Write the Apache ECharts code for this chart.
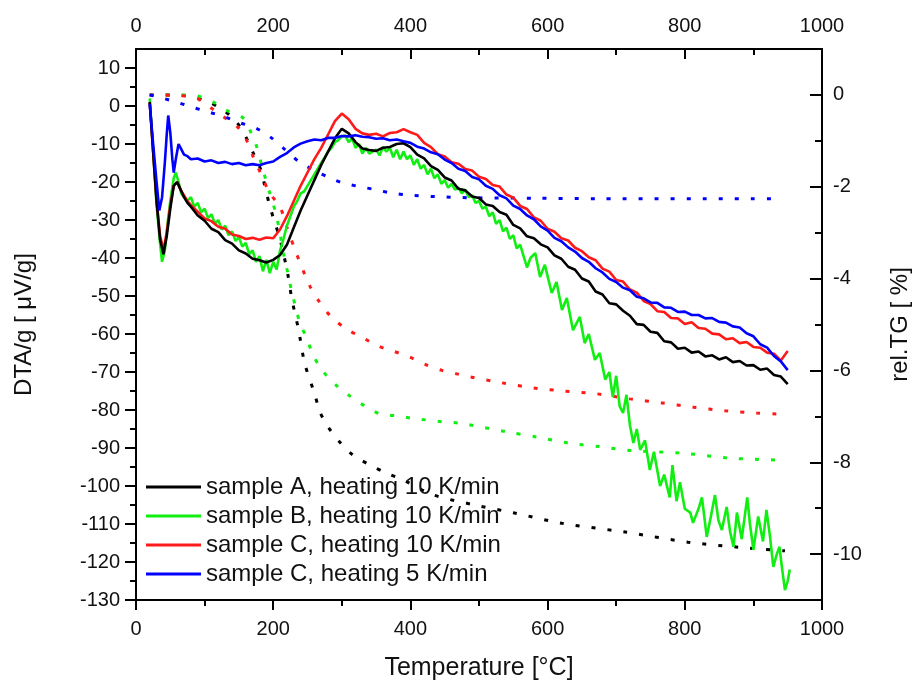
<!DOCTYPE html>
<html>
<head>
<meta charset="utf-8">
<script src="https://cdn.jsdelivr.net/npm/echarts@6/dist/echarts.min.js"></script>
<style>
html,body{margin:0;padding:0;background:#fff;}
#chart{width:914px;height:682px;}
</style>
</head>
<body>
<div id="chart"></div>
<script>
// ---------- DATA ----------
const legendNames = [
  'sample A, heating 10 K/min',
  'sample B, heating 10 K/min',
  'sample C, heating 10 K/min',
  'sample C, heating 5 K/min'
];
const xTicks = [0, 200, 400, 600, 800, 1000];
const leftTicks = [-130,-120,-110,-100,-90,-80,-70,-60,-50,-40,-30,-20,-10,0,10];
const rightTicks = [0,-2,-4,-6,-8,-10];

// DTA curves [temperature °C, DTA/g µV/g]
const dtaA = [[20,1],[25,-12],[30,-25],[35,-35],[40,-39],[45,-34],[50,-27],[55,-21],[60,-20],[65,-22],[70,-24],[75,-25.5],[80,-26.5],
[90,-28.8],[100,-30.2],[110,-32.3],[120,-33.2],[130,-35.3],[140,-36.2],[150,-38],[160,-38.8],[170,-40.2],[180,-40.6],[190,-41.2],[200,-40.5],[210,-39.2],[220,-36.5],[230,-32],[240,-27.5],[250,-23.5],[260,-19.5],[270,-15.5],[280,-12],[290,-8.5],[300,-6],[310,-7.2],[320,-9.5],[330,-11.2],[340,-11.6],[350,-11.8],[360,-11],[370,-10.8],[380,-10],[390,-9.8],[400,-10.8],[410,-12.8],[420,-13.8],[430,-15.8],[440,-16.8],[450,-18.8],[460,-19.6],[470,-21.8],[480,-22.2],[490,-23.8],[500,-24.2],[510,-25.9],[520,-26.3],[530,-27.9],[540,-28.6],[550,-31.3],[560,-32.2],[570,-34.3],[580,-34.8],[590,-36.4],[600,-37.2],[610,-39.3],[620,-40.2],[630,-42.3],[640,-43.1],[650,-45.4],[660,-46.2],[670,-48.8],[680,-49.6],[690,-51.9],[700,-52.2],[710,-53.9],[720,-55.2],[730,-57.4],[740,-57.6],[750,-59.4],[760,-59.7],[770,-61.9],[780,-62.2],[790,-63.9],[800,-63.6],[810,-64.9],[820,-64.6],[830,-65.9],[840,-65.6],[850,-66.7],[860,-66.1],[870,-67.4],[880,-67.1],[890,-68.3],[900,-68.2],[910,-69.4],[920,-69.1],[930,-70.8],[940,-71.2],[950,-73.2]];

const dtaB = [[20,2],[25,-12],[30,-26],[35,-36],[38,-41],[42,-38],[46,-31],[50,-25],[55,-19],[58,-17.5],[62,-20],[66,-23],[70,-24],[75,-25],[80,-24],[85,-26.5],[90,-25.5],[95,-28],[100,-27],[105,-29.5],[110,-28.5],[115,-31],[120,-30],[125,-32.5],[130,-31.5],[135,-34],[140,-33],[145,-35.5],[150,-34.5],[155,-37],[160,-36],[165,-39],[170,-38],[175,-41],[180,-39.5],[185,-43.5],[190,-40.5],[195,-44],[200,-41],[205,-43],[210,-38],[215,-35],[220,-31.5],[225,-29],[230,-26.5],[235,-25],[240,-23],[245,-22.5],[250,-21],[255,-19.5],[260,-18],[265,-16.5],[270,-15],[275,-13.5],[280,-12],[285,-11],[290,-9.5],[295,-9],[300,-8],[305,-7.8],[310,-9.5],[315,-8.5],[320,-11],[325,-10],[330,-12.5],[335,-11],[340,-12.5],[350,-11.5],[355,-13],[360,-10.8],[365,-12],[370,-11],[375,-13.5],[380,-11.5],[385,-14],[390,-12],[395,-14],[400,-13],[405,-15.5],[410,-14],[415,-16.5],[420,-15.5],[425,-18],[430,-16.5],[435,-19],[440,-18],[445,-20.5],[450,-19.5],[455,-21.5],[460,-20.5],[465,-22],[470,-21.5],[475,-23],[480,-22],[485,-24],[490,-23.5],[495,-25.5],[500,-25],[505,-27],[510,-26.5],[515,-29],[520,-28],[525,-31],[530,-30],[535,-33],[540,-32],[545,-35],[550,-34],[555,-37.5],[560,-36.5],[565,-39.5],[570,-42.5],[575,-40],[582,-38.7],[589,-45],[596,-41.8],[606,-49.2],[613,-46.3],[621,-53.7],[628,-50.5],[637,-59],[647,-55.5],[654,-62.4],[660,-60],[669,-66.8],[676,-65],[684,-72],[690,-70],[695,-76.6],[700,-71],[705,-79],[710,-80.8],[715,-76],[720,-84],[725,-88.7],[730,-85],[735,-90.5],[742,-88],[749,-95.8],[755,-91],[764,-100],[770,-97],[778,-103],[782,-94.5],[788,-104],[793,-99],[800,-106],[808,-107],[812,-109.7],[820,-106],[825,-103],[832,-113.4],[838,-108],[844,-102.4],[849,-109],[854,-111.6],[861,-105.5],[866,-112],[871,-116],[876,-107],[883,-114],[891,-103],[895,-110],[900,-116.8],[907,-108],[914,-114.6],[919,-106.3],[924,-113],[929,-121.3],[934,-118],[938,-116],[942,-122],[946,-127.4],[950,-125],[953,-122]];

const dtaC10 = [[20,1],[25,-12],[30,-25],[35,-34],[40,-38],[45,-33],[50,-26],[55,-21],[60,-20],[65,-22],[70,-23.5],[75,-25],[80,-26],[90,-27.8],[100,-29.6],[110,-30.3],[120,-31.8],[130,-32.3],[140,-33.8],[150,-34.2],[160,-35],[170,-34.7],[180,-35.2],[190,-34.6],[200,-34.8],[210,-32.5],[220,-29],[230,-25],[240,-21],[250,-17.5],[260,-14],[270,-11],[280,-7.5],[290,-4],[300,-2],[310,-3.5],[320,-6],[330,-7.2],[340,-7.6],[350,-7.3],[360,-8],[370,-7.1],[380,-6.9],[390,-6.1],[400,-6.9],[410,-7.6],[420,-9.7],[430,-10.8],[440,-12.7],[450,-13.3],[460,-14.8],[470,-15.2],[480,-16.6],[490,-17],[500,-18.6],[510,-19.2],[520,-20.8],[530,-21.2],[540,-23.3],[550,-24.1],[560,-26.3],[570,-27.1],[580,-29.3],[590,-30.2],[600,-32.3],[610,-33.1],[620,-34.8],[630,-35.4],[640,-37.3],[650,-38.2],[660,-39.8],[670,-40.6],[680,-42.8],[690,-43.6],[700,-45.8],[710,-46.2],[720,-48.3],[730,-49.1],[740,-51.3],[750,-52.1],[760,-54],[770,-54.2],[780,-55.8],[790,-55.9],[800,-57.4],[810,-56.9],[820,-58.4],[830,-58.6],[840,-59.9],[850,-60.1],[860,-61.4],[870,-61.1],[880,-62.4],[890,-62.1],[900,-63.4],[910,-63.6],[920,-64.9],[930,-65.2],[940,-67],[950,-64.5]];

const dtaC5 = [[20,0.5],[25,-10],[30,-20],[34,-27.5],[38,-24],[42,-15],[45,-7],[47,-2.5],[50,-7],[53,-14],[55,-17.5],[58,-14],[62,-10],[65,-11],[70,-12.8],[75,-13.2],[80,-14],[90,-13.8],[100,-14.6],[110,-14.3],[120,-15],[130,-14.7],[140,-15.3],[150,-15],[160,-15.6],[170,-15.3],[180,-15.6],[190,-15],[200,-14.6],[210,-13.4],[220,-12.4],[230,-10.9],[240,-9.9],[250,-9.3],[260,-8.8],[270,-9],[280,-8.4],[290,-8.4],[300,-7.9],[310,-8],[320,-7.7],[330,-8.1],[340,-8.2],[350,-8.6],[360,-8.5],[370,-9],[380,-8.8],[390,-9.3],[400,-9.7],[410,-10.7],[420,-11.2],[430,-12.2],[440,-12.7],[450,-14.1],[460,-15],[470,-16.5],[480,-17.1],[490,-18.7],[500,-19.3],[510,-21],[520,-21.8],[530,-23.5],[540,-24.3],[550,-26.2],[560,-27.1],[570,-28.8],[580,-29.8],[590,-31.7],[600,-32.8],[610,-34.7],[620,-35.6],[630,-37.2],[640,-38.3],[650,-40],[660,-41],[670,-42.7],[680,-43.8],[690,-45.5],[700,-46.3],[710,-47.8],[720,-48.5],[730,-50.2],[740,-50.6],[750,-51.7],[760,-51.8],[770,-53],[780,-53.1],[790,-54.2],[800,-54.1],[810,-55],[820,-55],[830,-55.9],[840,-55.8],[850,-56.8],[860,-57],[870,-58],[880,-58.3],[890,-59.8],[900,-60.6],[910,-62.7],[920,-63.6],[930,-65.8],[940,-67.2],[950,-69.5]];

// TG curves [temperature °C, rel. TG %]
const tgA = [[20,0],[60,0],[100,-0.12],[127,-0.33],[146,-0.58],[160,-0.91],[171,-1.27],[182,-1.63],[188,-2.0],[194,-2.36],[201,-2.72],[209,-3.09],[216,-3.53],[221,-3.88],[227,-4.43],[237,-5.12],[246,-5.85],[261,-6.54],[268,-6.9],[280,-7.23],[297,-7.56],[316,-7.84],[341,-8.06],[366,-8.24],[390,-8.39],[433,-8.71],[500,-8.95],[550,-9.1],[621,-9.33],[713,-9.52],[805,-9.74],[878,-9.85],[946,-9.93]];
const tgB = [[20,0],[80,0],[112,-0.15],[131,-0.33],[156,-0.5],[168,-0.83],[176,-1.13],[185,-1.63],[195,-2.14],[205,-2.65],[217,-3.6],[222,-3.92],[227,-4.29],[233,-4.64],[239,-4.97],[249,-5.3],[258,-5.66],[271,-5.99],[290,-6.3],[312,-6.56],[334,-6.78],[356,-6.95],[380,-6.99],[402,-7.04],[448,-7.12],[472,-7.15],[541,-7.34],[584,-7.45],[630,-7.58],[676,-7.66],[725,-7.75],[796,-7.8],[866,-7.91],[934,-7.95]];
const tgC10 = [[20,0],[83,-0.04],[107,-0.26],[128,-0.48],[147,-0.68],[160,-0.95],[171,-1.35],[183,-1.75],[195,-2.14],[210,-2.44],[220,-2.88],[234,-3.46],[254,-4.18],[268,-4.52],[285,-4.84],[307,-5.1],[331,-5.29],[353,-5.47],[375,-5.58],[399,-5.71],[423,-5.88],[446,-6.0],[469,-6.08],[487,-6.14],[533,-6.27],[579,-6.38],[625,-6.45],[672,-6.51],[720,-6.62],[767,-6.71],[812,-6.8],[859,-6.88],[905,-6.93],[935,-6.95]];
const tgC5 = [[20,0],[58,-0.15],[80,-0.26],[105,-0.37],[130,-0.48],[150,-0.6],[174,-0.72],[196,-0.92],[218,-1.2],[238,-1.46],[258,-1.63],[283,-1.81],[302,-1.92],[327,-2.0],[348,-2.06],[373,-2.14],[397,-2.18],[443,-2.22],[490,-2.24],[584,-2.25],[676,-2.26],[931,-2.26]];

// ---------- CHART ----------
const FONT = '"Liberation Sans", Arial, sans-serif';
const colors = ['#000000', '#11ee11', '#ff1a1a', '#0000ff'];
const chart = echarts.init(document.getElementById('chart'), null, {renderer: 'canvas'});

const axisLineStyle = {color: '#000', width: 2};
const tickLine = {color: '#000', width: 2};
const labelStyle = {color: '#111', fontSize: 20, fontFamily: FONT, formatter: v => String(v)};

function dtaSeries(name, data, color) {
  return {name: name, type: 'line', data: data, xAxisIndex: 0, yAxisIndex: 0,
    showSymbol: false, symbol: 'none', lineStyle: {color: color, width: 2.6}, itemStyle: {color: color},
    z: 3, silent: true};
}
function tgSeries(name, data, color) {
  return {name: name, type: 'line', data: data, xAxisIndex: 0, yAxisIndex: 1, smooth: 0.3,
    showSymbol: false, symbol: 'none', lineStyle: {color: color, width: 3, type: [4, 12]},
    z: 2, silent: true};
}

const option = {
  animation: false,
  backgroundColor: '#fff',
  grid: {left: 136, right: 92, top: 49, bottom: 82, containLabel: false, outerBoundsMode: 'none'},
  legend: {
    data: legendNames.map((n, i) => ({name: n, icon: 'rect', itemStyle: {color: colors[i]}})),
    orient: 'vertical', left: 146, top: 475, padding: 0,
    itemWidth: 55, itemHeight: 3, itemGap: 5,
    textStyle: {fontSize: 24, fontFamily: FONT, color: '#111', lineHeight: 24},
    selectedMode: false
  },
  xAxis: [
    {type: 'value', position: 'bottom', min: 0, max: 1000, interval: 200,
      name: 'Temperature [°C]', nameLocation: 'middle', nameGap: 56,
      nameTextStyle: {fontSize: 25, fontFamily: FONT, color: '#111'},
      axisLine: {show: true, onZero: false, lineStyle: axisLineStyle},
      axisTick: {show: true, inside: false, length: 10, lineStyle: tickLine},
      minorTick: {show: true, splitNumber: 2, length: 6, lineStyle: tickLine},
      axisLabel: Object.assign({margin: 19, customValues: xTicks}, labelStyle),
      splitLine: {show: false}},
    {type: 'value', position: 'top', min: 0, max: 1000, interval: 200,
      axisLine: {show: true, onZero: false, lineStyle: axisLineStyle},
      axisTick: {show: true, inside: true, length: 10, lineStyle: tickLine},
      minorTick: {show: true, splitNumber: 2, length: 6, lineStyle: tickLine},
      axisLabel: Object.assign({margin: 13, customValues: xTicks}, labelStyle),
      splitLine: {show: false}}
  ],
  yAxis: [
    {type: 'value', position: 'left', min: -130, max: 15, interval: 10,
      name: 'DTA/g [ μV/g]', nameLocation: 'middle', nameGap: 100, nameRotate: 90,
      nameTextStyle: {fontSize: 24, fontFamily: FONT, color: '#111'},
      axisLine: {show: true, onZero: false, lineStyle: axisLineStyle},
      axisTick: {show: true, inside: false, length: 11, customValues: leftTicks, lineStyle: tickLine},
      axisLabel: Object.assign({margin: 16, customValues: leftTicks}, labelStyle),
      splitLine: {show: false}},
    {type: 'value', position: 'right', min: -11, max: 1, interval: 1,
      name: 'rel.TG [ %]', nameLocation: 'middle', nameGap: 66, nameRotate: 90,
      nameTextStyle: {fontSize: 24, fontFamily: FONT, color: '#111'},
      axisLine: {show: true, onZero: false, lineStyle: axisLineStyle},
      axisTick: {show: true, inside: true, length: 12, customValues: rightTicks, lineStyle: tickLine},
      axisLabel: Object.assign({margin: 11, customValues: rightTicks}, labelStyle),
      splitLine: {show: false}},
    // minor ticks left
    {type: 'value', position: 'left', min: -130, max: 15, interval: 5,
      axisLine: {show: false, onZero: false},
      axisTick: {show: true, inside: false, length: 6, customValues: [-125,-115,-105,-95,-85,-75,-65,-55,-45,-35,-25,-15,-5,5], lineStyle: tickLine},
      axisLabel: {show: false}, splitLine: {show: false}},
    // minor ticks right
    {type: 'value', position: 'right', min: -11, max: 1, interval: 1,
      axisLine: {show: false, onZero: false},
      axisTick: {show: true, inside: true, length: 7, customValues: [-1,-3,-5,-7,-9], lineStyle: tickLine},
      axisLabel: {show: false}, splitLine: {show: false}}
  ],
  series: [
    tgSeries('TG A', tgA, colors[0]),
    tgSeries('TG B', tgB, colors[1]),
    tgSeries('TG C10', tgC10, colors[2]),
    tgSeries('TG C5', tgC5, colors[3]),
    dtaSeries(legendNames[1], dtaB, colors[1]),
    dtaSeries(legendNames[2], dtaC10, colors[2]),
    dtaSeries(legendNames[0], dtaA, colors[0]),
    dtaSeries(legendNames[3], dtaC5, colors[3])
  ]
};
chart.setOption(option);
</script>
</body>
</html>
